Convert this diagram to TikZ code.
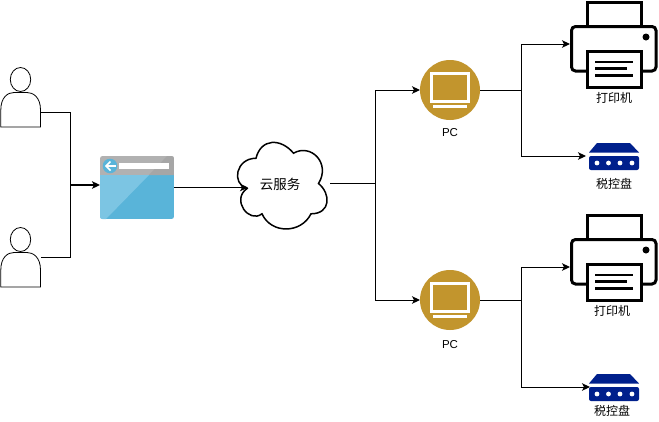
\documentclass[tikz,border=0pt]{standalone}
\usepackage{fontspec}
\setmainfont{Liberation Sans}
\newfontfamily\cjk{Noto Sans CJK SC}
\usetikzlibrary{arrows.meta,positioning}
\definecolor{pcgold}{HTML}{C2952D}
\definecolor{keyblue}{HTML}{00208C}
\definecolor{appblue}{HTML}{59B4D9}
\definecolor{applight}{HTML}{7CC5E3}
\definecolor{appgray}{HTML}{B1B1B1}
\definecolor{appdark}{HTML}{A6A6A6}
\tikzset{
 >={Stealth[length=8pt,width=7.5pt,inset=2pt]},
 x=1pt,
 y=-1pt,
 every edge/.append style={line width=1pt},
 label/.style={shape=rectangle,inner sep=0pt,font=\cjk\fontsize{12}{12}\selectfont},
 pclabel/.style={shape=rectangle,inner sep=0pt,font=\fontsize{11.5}{12}\selectfont},
 box/.style={shape=rectangle,inner sep=0pt,outer sep=0pt},
 user/.pic={
  \draw[line width=.8pt,fill=white] (20.5,12.5) ellipse [x radius=10.2,y radius=12];
  \draw[line width=.8pt,fill=white] (.8,60) -- (.8,43) .. controls (.8,30) and (8,25.5) .. (14,25.5)
   -- (27,25.5) .. controls (33,25.5) and (40.5,30) .. (40.5,43) -- (40.5,60) -- cycle;
 },
 browser/.pic={
  \begin{scope}
  \clip[rounded corners=2.5] (0,0) rectangle (74,63);
  \fill[appblue] (0,19) rectangle (74,63);
  \fill[applight] (0,19) -- (49,19) -- (6,63) -- (0,63) -- cycle;
  \fill[appgray] (0,0) rectangle (74,19);
  \fill[appdark] (67,0) -- (74,0) -- (74,19) -- (49,19) -- cycle;
  \end{scope}
  \fill[appblue] (10,10) circle (7.3);
  \fill[white] (19,7) rectangle (69,13);
  \draw[white,line width=1.6pt] (16,10) -- (6,10);
  \draw[white,line width=1.6pt] (10.5,5.5) -- (6,10) -- (10.5,14.5);
 },
 cloudshape/.pic={
  \draw[line width=1.5pt,fill=white] (25,25.25) .. controls (5,25.25) and (0,50.5) .. (16,55.55)
   .. controls (0,66.66) and (18,90.9) .. (31,80.8)
   .. controls (40,101) and (70,101) .. (80,80.8)
   .. controls (100,80.8) and (100,60.6) .. (87.5,50.5)
   .. controls (100,30.3) and (80,10.1) .. (62.5,20.2)
   .. controls (50,5.05) and (30,5.05) .. (25,25.25) -- cycle;
 },
 monitor/.pic={
  \fill[pcgold] (0,0) circle (30);
  \draw[white,line width=3pt] (-18.5,-16.5) rectangle (18.5,11);
  \fill[white] (-17,15) rectangle (17,18);
 },
 printer/.pic={
  \draw[line width=3pt,fill=white] (17.5,-21) rectangle (71,3);
  \draw[line width=3pt,rounded corners=4,fill=white] (1.5,3.5) rectangle (86,48);
  \draw[line width=3pt,fill=white] (17.5,28) rectangle (71,64.5);
  \draw[line width=2.6pt] (25,39) -- (63,39);
  \draw[line width=2.6pt] (25,45.5) -- (57,45.5);
  \draw[line width=2.6pt] (25,52.5) -- (63,52.5);
  \fill (76,14) circle (3.5);
 },
 taxdisk/.pic={
  \fill[keyblue] (8,0) -- (41,0) -- (50,9.5) -- (0,9.5) -- cycle;
  \fill[keyblue,rounded corners=2] (0,13) rectangle (50,27);
  \foreach \i in {8,19.5,31,43} \fill[white] (\i,20) circle (2.4);
 }
}
\begin{document}
\begin{tikzpicture}
\useasboundingbox (0,0) rectangle (659,421);
\fill[white] (0,0) rectangle (659,421);
%left side
\path (0,67) pic {user};
\path (0,227) pic {user};
\path (100,156) pic {browser};
\path (231,133) pic {cloudshape};
\path (41,112) coordinate (user1);
\path (41,257) coordinate (user2);
\path (70.5,112) coordinate (turn1);
\path (70.5,257) coordinate (turn2);
\path (70.5,185) coordinate (join);
\path (100,185) coordinate (appin);
\path (137,187.5) node[box,name=app,minimum width=74,minimum height=63] {};
\path (248,187.5) coordinate (cloudin);
\path (330,183.5) coordinate (cloudout);
\path (280,184) node[label,name=cloud,font=\cjk\fontsize{13.5}{14}\selectfont] {云服务};

\path[-] (user1) edge (turn1);
\path[-] (turn1) edge (join);
\path[-] (user2) edge (turn2);
\path[-] (turn2) edge (join);
\path[->] (join) edge[line width=1.8pt] (appin);
\path[->] (app.east) edge (cloudin);

%upper and lower pc
\path (450,90) node[box,name=pc1,minimum size=60] {};
\path (450,300) node[box,name=pc2,minimum size=60] {};
\path (450,90) pic {monitor};
\path (450,300) pic {monitor};
\path (450,133) node[pclabel,name=pctext1] {PC};
\path (450,345) node[pclabel,name=pctext2] {PC};

\path (375,183.5) coordinate (fork);
\path (375,90) coordinate (fork1);
\path (375,300) coordinate (fork2);
\path[-] (cloudout) edge (fork);
\path[-] (fork1) edge (fork2);
\path[->] (fork1) edge (pc1.west);
\path[->] (fork2) edge (pc2.west);

%printers and disks
\path (570,23) pic {printer};
\path (570,236) pic {printer};
\path (589,143) pic {taxdisk};
\path (589,374) pic {taxdisk};
\path (614,98) node[label,name=printtext1] {打印机};
\path (612,311) node[label,name=printtext2] {打印机};
\path (614,184) node[label,name=disktext1] {税控盘};
\path (612,411) node[label,name=disktext2] {税控盘};

\path (570,44) coordinate (print1);
\path (570,267) coordinate (print2);
\path (586,156) coordinate (disk1);
\path (590,387) coordinate (disk2);
\path (521,90) coordinate (mid1);
\path (521,300) coordinate (mid2);
\path (521,44) coordinate (up1);
\path (521,156) coordinate (down1);
\path (521,267) coordinate (up2);
\path (521,387) coordinate (down2);

\path[-] (pc1.east) edge (mid1);
\path[-] (up1) edge (down1);
\path[->] (up1) edge (print1);
\path[->] (down1) edge (disk1);
\path[-] (pc2.east) edge (mid2);
\path[-] (up2) edge (down2);
\path[->] (up2) edge (print2);
\path[->] (down2) edge (disk2);
\end{tikzpicture}
\end{document}
